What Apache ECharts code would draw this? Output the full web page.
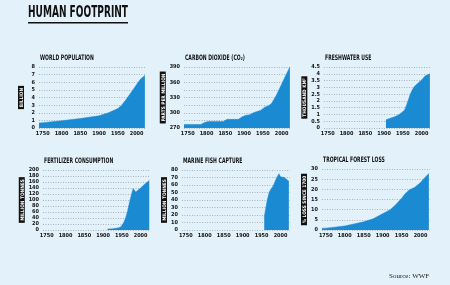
<!DOCTYPE html>
<html>
<head>
<meta charset="utf-8">
<script src="https://cdn.jsdelivr.net/npm/echarts@6/dist/echarts.min.js"></script>
<style>
  html, body { margin: 0; padding: 0; background: #e3f1fa; }
  #chart { width: 450px; height: 285px; }
</style>
</head>
<body>
<div id="chart"></div>
<script>
// ---- data ----
const xTicks = [1750, 1800, 1850, 1900, 1950, 2000];

const popYears  = [1740, 1750, 1800, 1850, 1900, 1925, 1950, 1960, 1970, 1980, 1990, 2000, 2010, 2022];
const popValues = [0.65, 0.7, 0.95, 1.25, 1.6, 2.0, 2.55, 3.0, 3.6, 4.3, 5.0, 5.7, 6.4, 6.9];

const co2Years  = [1740, 1785, 1795, 1805, 1845, 1855, 1885, 1895, 1905, 1915, 1925, 1945, 1955, 1965, 1973, 1985, 2000, 2010, 2022];
const co2Values = [277, 277, 281, 283, 283, 287, 287, 292, 295, 296, 300, 305, 311, 314, 318, 333, 356, 372, 390];

const waterYears  = [1905, 1910, 1920, 1930, 1940, 1950, 1955, 1960, 1965, 1970, 1975, 1980, 1985, 1990, 1995, 2000, 2005, 2010, 2015, 2022];
const waterValues = [0.6, 0.65, 0.75, 0.85, 1.0, 1.2, 1.35, 1.7, 2.1, 2.5, 2.8, 3.05, 3.1, 3.3, 3.4, 3.55, 3.7, 3.85, 3.95, 4.0];

const fertYears  = [1912, 1925, 1935, 1940, 1945, 1950, 1955, 1960, 1965, 1970, 1975, 1980, 1983, 1987, 1992, 2000, 2010, 2023];
const fertValues = [3, 4, 6, 10, 8, 15, 25, 40, 62, 90, 115, 138, 140, 127, 133, 140, 152, 165];

const fishYears  = [1957, 1960, 1965, 1970, 1975, 1980, 1985, 1990, 1996, 2000, 2005, 2010, 2015, 2022];
const fishValues = [17, 26, 40, 50, 55, 58, 64, 70, 75, 71, 70, 70, 68, 65];

const forestYears  = [1740, 1750, 1800, 1850, 1875, 1900, 1920, 1935, 1950, 1960, 1970, 1985, 2000, 2010, 2022];
const forestValues = [0.8, 0.9, 2, 4, 5.5, 8, 10, 12.5, 15.6, 18, 19.7, 21, 23.3, 25.5, 27.8];

const chartTitles = ['WORLD POPULATION', 'CARBON DIOXIDE (CO\u2082)', 'FRESHWATER USE',
                     'FERTILIZER CONSUMPTION', 'MARINE FISH CAPTURE', 'TROPICAL FOREST LOSS'];
const unitNames = ['BILLION', 'PARTS PER MILLION', 'THOUSAND KM\u00b3',
                   'MILLION TONNES', 'MILLION TONNES', '% LOSS SINCE 1700'];

// ---- styling ----
const FONT = "'Liberation Sans Narrow', 'DejaVu Sans Condensed', sans-serif";
const BLUE = '#1a8ad2';

const panels = [
    { years: popYears,    values: popValues,    min: 0,   max: 8,   step: 1,   grid: { left: 39,  top: 67,  width: 107, height: 61 } },
    { years: co2Years,    values: co2Values,    min: 270, max: 390, step: 15,  grid: { left: 184, top: 67,  width: 107, height: 61 }, every: 30 },
    { years: waterYears,  values: waterValues,  min: 0,   max: 4.5, step: 0.5, grid: { left: 324, top: 67,  width: 107, height: 61 } },
    { years: fertYears,   values: fertValues,   min: 0,   max: 200, step: 20,  grid: { left: 43,  top: 170, width: 107, height: 60 } },
    { years: fishYears,   values: fishValues,   min: 0,   max: 80,  step: 10,  grid: { left: 182, top: 170, width: 108, height: 60 } },
    { years: forestYears, values: forestValues, min: 0,   max: 30,  step: 5,   grid: { left: 322, top: 169, width: 108, height: 61 } }
];

let grids = [], xAxes = [], yAxes = [], series = [], graphics = [];

panels.forEach(function (p, i) {
    grids.push(p.grid);
    xAxes.push({
        type: 'value', gridIndex: i, min: 1740, max: 2025,
        axisLine: { show: false }, axisTick: { show: false }, splitLine: { show: false },
        axisLabel: {
            customValues: xTicks, fontSize: 5.5, fontWeight: 'bold', color: '#111', margin: 3, fontFamily: FONT,
            formatter: function (v) { return String(v); }
        }
    });
    yAxes.push({
        type: 'value', gridIndex: i, min: p.min, max: p.max, interval: p.step,
        axisLine: { show: false }, axisTick: { show: false },
        splitLine: { lineStyle: { type: [1, 1.5], color: '#7d8a94', width: 0.6 } },
        axisLabel: {
            fontSize: 5.5, fontWeight: 'bold', color: '#111', margin: 4, fontFamily: FONT,
            formatter: function (v) {
                if (p.every && v % p.every !== 0) return '';
                return String(v);
            }
        },
        name: unitNames[i], nameLocation: 'middle', nameRotate: 90, nameGap: 15,
        nameTextStyle: { color: '#fff', backgroundColor: '#111', padding: [1, 2, 0, 2], fontSize: 4.8, fontWeight: 'bold', fontFamily: FONT }
    });
    series.push({
        type: 'line', xAxisIndex: i, yAxisIndex: i,
        data: p.years.map((y, k) => [y, p.values[k]]),
        symbol: 'none', silent: true,
        lineStyle: { width: 0.5, color: BLUE },
        areaStyle: { color: BLUE, opacity: 1 }
    });
    // small panel titles, squeezed to look condensed
    graphics.push({
        type: 'text', x: p.grid.left + 1, y: p.grid.top - 13, scaleX: 0.68,
        style: { text: chartTitles[i], font: "bold 7.5px " + FONT, fill: '#111', textVerticalAlign: 'top' }
    });
});

graphics.push(
    { type: 'text', x: 28, y: 6, scaleX: 0.67, style: { text: 'HUMAN FOOTPRINT', font: "bold 15px " + FONT, fill: '#111', textVerticalAlign: 'top' } },
    { type: 'rect', x: 28, y: 22, shape: { width: 100, height: 1.6 }, style: { fill: '#111' } },
    { type: 'text', x: 389, y: 273, style: { text: 'Source: WWF', font: "7px 'Liberation Serif', serif", fill: '#222', textVerticalAlign: 'top' } }
);

let chart = echarts.init(document.getElementById('chart'));
chart.setOption({
    animation: false,
    backgroundColor: '#e3f1fa',
    grid: grids,
    xAxis: xAxes,
    yAxis: yAxes,
    series: series,
    graphic: graphics
});
</script>
</body>
</html>
